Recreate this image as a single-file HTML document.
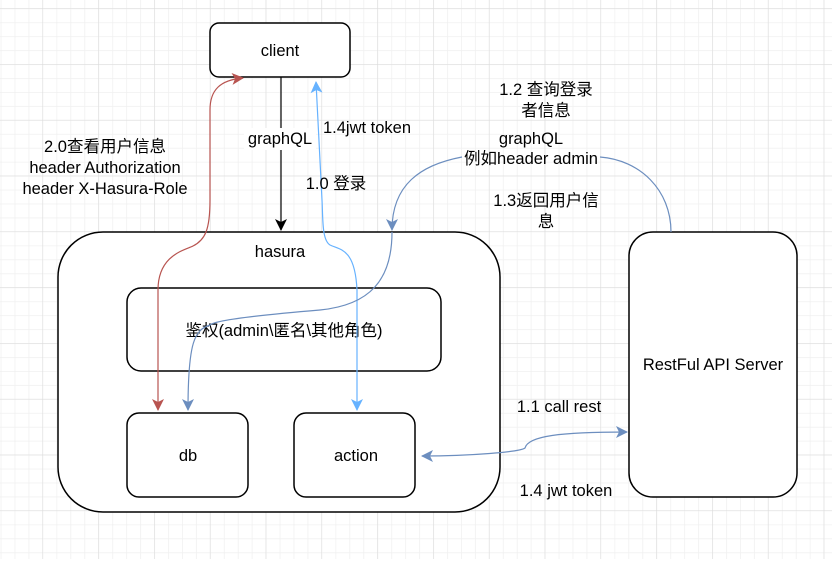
<!DOCTYPE html>
<html><head><meta charset="utf-8"><style>
html,body{margin:0;padding:0;background:#fff}
text{font-family:"Liberation Sans","Noto Sans CJK SC",sans-serif;font-size:16.5px;fill:#000}
</style></head><body>
<svg width="832" height="559" xmlns="http://www.w3.org/2000/svg">
<defs>
<pattern id="minor" x="42.5" y="8.3" width="13.95" height="13.95" patternUnits="userSpaceOnUse">
<path d="M0 0H13.95M0 0V13.95" stroke="#f0f0f0" stroke-width="1.5" fill="none"/></pattern>
<pattern id="major" x="42.5" y="8.3" width="55.8" height="55.8" patternUnits="userSpaceOnUse">
<path d="M0 0H55.8M0 0V55.8" stroke="#dadada" stroke-width="1" fill="none"/></pattern>
<marker id="ab" markerWidth="12" markerHeight="12" refX="11" refY="6" orient="auto" markerUnits="userSpaceOnUse"><path d="M0 0L12 6L0 12L3 6Z" fill="#000"/></marker>
<marker id="ar" markerWidth="12" markerHeight="12" refX="11" refY="6" orient="auto-start-reverse" markerUnits="userSpaceOnUse"><path d="M0 0L12 6L0 12L3 6Z" fill="#b85450"/></marker>
<marker id="al" markerWidth="12" markerHeight="12" refX="11" refY="6" orient="auto-start-reverse" markerUnits="userSpaceOnUse"><path d="M0 0L12 6L0 12L3 6Z" fill="#66b2ff"/></marker>
<marker id="ag" markerWidth="12" markerHeight="12" refX="11" refY="6" orient="auto-start-reverse" markerUnits="userSpaceOnUse"><path d="M0 0L12 6L0 12L3 6Z" fill="#6c8ebf"/></marker>
</defs>
<rect width="832" height="559" fill="url(#minor)"/>
<rect width="832" height="559" fill="url(#major)"/>

<g fill="#fff" stroke="#000" stroke-width="1.5">
<rect x="210" y="23" width="140" height="54" rx="9"/>
<rect x="58" y="232" width="442" height="280" rx="45"/>
<rect x="127" y="288" width="314" height="83" rx="14"/>
<rect x="127" y="413" width="121" height="84" rx="12"/>
<rect x="294" y="413" width="121" height="84" rx="12"/>
<rect x="629" y="232" width="168" height="265" rx="24"/>
</g>

<text x="280" y="56" text-anchor="middle">client</text>
<text x="280" y="257" text-anchor="middle">hasura</text>
<text x="284" y="336" text-anchor="middle">鉴权(admin\匿名\其他角色)</text>
<text x="188" y="461" text-anchor="middle">db</text>
<text x="356" y="461" text-anchor="middle">action</text>
<text x="713" y="370" text-anchor="middle">RestFul API Server</text>

<line x1="281" y1="77" x2="281" y2="230" stroke="#000" stroke-width="1.2" marker-end="url(#ab)"/>
<rect x="244" y="128" width="72" height="22" fill="#fff"/>
<text x="280" y="144" text-anchor="middle">graphQL</text>

<path d="M158 410 L158 290 C158 255 185 250 193 246 C205 240 210 230 210 200 L210 110 C210 90 220 80 243 78" fill="none" stroke="#b85450" stroke-width="1.2" marker-start="url(#ar)" marker-end="url(#ar)"/>

<path d="M357 410 L357 290 C355 248 340 250 330 245 C322 240 323 220 322 200 L316 82" fill="none" stroke="#66b2ff" stroke-width="1.2" marker-start="url(#al)" marker-end="url(#al)"/>

<path d="M671 232 C671 190 640 160 600 157 M462 157 C420 165 392 185 392 230" fill="none" stroke="#6c8ebf" stroke-width="1.2" marker-end="url(#ag)"/>
<path d="M392 232 C392 280 370 305 320 310 C260 315 215 320 210 325 C195 330 188 340 188 410" fill="none" stroke="#6c8ebf" stroke-width="1.2" marker-end="url(#ag)"/>
<path d="M422 456 C470 456 520 452 525 448 C528 436 560 432 627 432" fill="none" stroke="#6c8ebf" stroke-width="1.2" marker-start="url(#ag)" marker-end="url(#ag)"/>

<g text-anchor="middle">
<text x="105" y="152">2.0查看用户信息</text>
<text x="105" y="173">header Authorization</text>
<text x="105" y="194">header X-Hasura-Role</text>
<text x="367" y="133">1.4jwt token</text>
<text x="336" y="189">1.0 登录</text>
<text x="546" y="95">1.2 查询登录</text>
<text x="546" y="116">者信息</text>
<text x="531" y="144">graphQL</text>
<text x="531" y="164">例如header admin</text>
<text x="546" y="206">1.3返回用户信</text>
<text x="546" y="227">息</text>
<text x="559" y="412">1.1 call rest</text>
<text x="566" y="496">1.4 jwt token</text>
</g>
</svg>
</body></html>
